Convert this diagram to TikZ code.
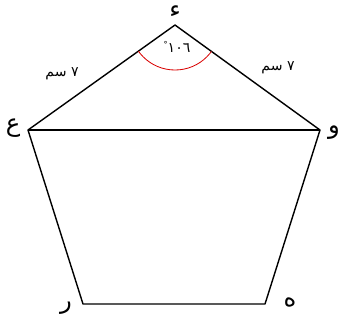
\documentclass[tikz,border=0pt]{standalone}
\usepackage{fontspec}
\usepackage{xcolor}
\usepackage{tikz}
\newfontfamily\arabicfont[Script=Arabic]{DejaVu Sans}
\TeXXeTstate=1

\tikzset{
  side/.style={line width=1.2pt, line join=round},
  vlabel/.style={font=\arabicfont\huge, inner sep=0pt},
  lenlabel/.style={font=\arabicfont\large, inner sep=0pt}
}

\begin{document}
\begin{tikzpicture}[x=0.03cm,y=-0.03cm]
            \useasboundingbox (0,0) rectangle (349,322);
            % vertices of the pentagon
            \coordinate (D) at (175,25);
            \coordinate (W) at (320,130);
            \coordinate (H) at (265,304);
            \coordinate (R) at (83,304);
            \coordinate (A) at (28,130);

            \draw[side] (D) -- (W) -- (H) -- (R) -- (A) -- cycle;
            \draw[side] (A) -- (W);

            % angle at the top
            \begin{scope}
              \clip (D) -- (A) -- (W) -- cycle;
              \draw[red!85!black, line width=0.7pt] (D) circle[radius=1.35cm];
            \end{scope}
            \node[lenlabel] (ang) at (177,47) {\raisebox{0.7ex}{\scriptsize°}١٠٦};

            \node[lenlabel] (lenA) at (62,74) {\beginR ٧ سم\endR};
            \node[lenlabel] (lenW) at (278,68) {\beginR ٧ سم\endR};

            \node[vlabel] (lD) at (175,12) {ء};
            \node[vlabel] (lA) at (13,128) {ع};
            \node[vlabel] (lW) at (334,133) {و};
            \node[vlabel] (lH) at (290,302) {ه};
            \node[vlabel] (lR) at (66,308) {ر};
\end{tikzpicture}
\end{document}
